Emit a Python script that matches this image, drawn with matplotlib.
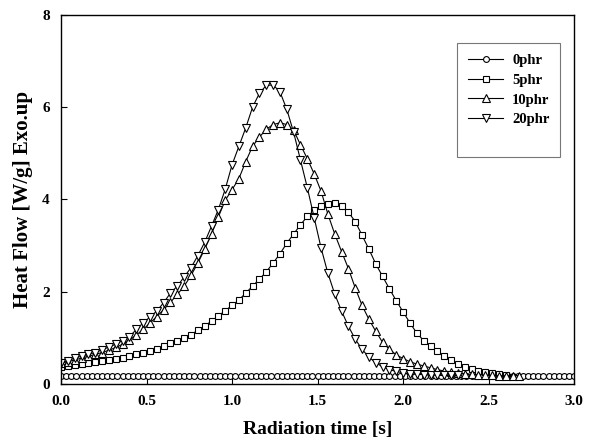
import numpy as np
import matplotlib
matplotlib.use('Agg')
import matplotlib.pyplot as plt
from matplotlib.lines import Line2D

# radiation time grids [s]
t0 = np.round(np.arange(0, 3.001, 0.03), 3)
t5 = np.round(np.arange(0, 2.601, 0.04), 3)
t10 = np.round(np.arange(0, 2.681, 0.04), 3)
t20 = np.round(np.arange(0, 2.321, 0.04), 3)

# heat flow [W/g]
phr0 = [0.18, 0.18, 0.18, 0.18, 0.17, 0.17, 0.17, 0.17, 0.17, 0.17,
        0.17, 0.17, 0.17, 0.17, 0.17, 0.17, 0.17, 0.17, 0.17, 0.17,
        0.17, 0.17, 0.17, 0.17, 0.17, 0.17, 0.17, 0.17, 0.17, 0.17,
        0.17, 0.17, 0.17, 0.17, 0.17, 0.17, 0.17, 0.17, 0.17, 0.17,
        0.17, 0.17, 0.17, 0.17, 0.17, 0.17, 0.17, 0.17, 0.17, 0.17,
        0.17, 0.17, 0.17, 0.17, 0.17, 0.17, 0.17, 0.17, 0.17, 0.17,
        0.17, 0.17, 0.17, 0.17, 0.17, 0.17, 0.17, 0.17, 0.17, 0.17,
        0.17, 0.17, 0.17, 0.17, 0.17, 0.17, 0.17, 0.17, 0.17, 0.17,
        0.17, 0.17, 0.17, 0.17, 0.17, 0.17, 0.17, 0.17, 0.17, 0.17,
        0.17, 0.17, 0.17, 0.17, 0.17, 0.17, 0.17, 0.17, 0.17, 0.17,
        0.17]

phr5 = [0.37, 0.39, 0.41, 0.43, 0.45, 0.48, 0.50, 0.52, 0.54, 0.57,
        0.60, 0.64, 0.67, 0.71, 0.76, 0.82, 0.88, 0.94, 0.99, 1.07,
        1.16, 1.26, 1.36, 1.47, 1.59, 1.70, 1.82, 1.97, 2.12, 2.27,
        2.43, 2.62, 2.82, 3.05, 3.25, 3.45, 3.63, 3.76, 3.86, 3.91,
        3.92, 3.86, 3.72, 3.52, 3.22, 2.92, 2.60, 2.33, 2.06, 1.80,
        1.56, 1.32, 1.10, 0.94, 0.82, 0.71, 0.60, 0.51, 0.43, 0.37,
        0.32, 0.28, 0.25, 0.23, 0.21, 0.20]

phr10 = [0.45, 0.48, 0.52, 0.56, 0.60, 0.64, 0.68, 0.73, 0.79, 0.86,
         0.95, 1.06, 1.18, 1.32, 1.46, 1.61, 1.77, 1.94, 2.12, 2.35,
         2.62, 2.92, 3.25, 3.62, 3.98, 4.21, 4.45, 4.82, 5.15, 5.35,
         5.52, 5.62, 5.66, 5.62, 5.50, 5.18, 4.88, 4.55, 4.18, 3.68,
         3.25, 2.87, 2.50, 2.08, 1.70, 1.40, 1.14, 0.90, 0.75, 0.63,
         0.55, 0.48, 0.43, 0.39, 0.35, 0.31, 0.28, 0.26, 0.24, 0.22,
         0.21, 0.20, 0.19, 0.19, 0.18, 0.18, 0.18, 0.18]

phr20 = [0.45, 0.50, 0.56, 0.60, 0.64, 0.68, 0.74, 0.80, 0.86, 0.94,
         1.02, 1.18, 1.32, 1.45, 1.58, 1.76, 1.97, 2.12, 2.32, 2.52,
         2.78, 3.07, 3.42, 3.78, 4.22, 4.75, 5.15, 5.55, 6.00, 6.30,
         6.47, 6.48, 6.33, 5.95, 5.45, 4.85, 4.25, 3.60, 2.95, 2.40,
         1.95, 1.58, 1.25, 0.97, 0.75, 0.58, 0.46, 0.37, 0.31, 0.27,
         0.24, 0.22, 0.21, 0.20, 0.20, 0.19, 0.19, 0.19, 0.19]

plt.rcParams['font.family'] = ['Liberation Serif', 'DejaVu Serif']
plt.rcParams['font.weight'] = 'bold'

fig = plt.figure(figsize=(5.92, 4.48), dpi=100)
ax = fig.add_axes([0.103, 0.143, 0.867, 0.824])

style = dict(color='black', lw=0.8, mfc='white', mec='black', mew=0.8)
ax.plot(t0, phr0, marker='o', ms=4.2, label='0phr', **style)
ax.plot(t5, phr5, marker='s', ms=4.5, label='5phr', **style)
ax.plot(t10, phr10, marker='^', ms=5.2, label='10phr', **style)
ax.plot(t20, phr20, marker='v', ms=5.2, label='20phr', **style)

ax.set_xlim(0, 3.0)
ax.set_ylim(0, 8)
ax.set_xticks([0, 0.5, 1.0, 1.5, 2.0, 2.5, 3.0])
ax.set_xticklabels(['0.0', '0.5', '1.0', '1.5', '2.0', '2.5', '3.0'])
ax.set_yticks([0, 2, 4, 6, 8])
ax.tick_params(direction='in', length=4, width=0.8, labelsize=11, pad=8)
for lab in ax.get_xticklabels() + ax.get_yticklabels():
    lab.set_fontweight('bold')
for s in ax.spines.values():
    s.set_linewidth(1.0)

ax.set_xlabel('Radiation time [s]', fontsize=14, fontweight='bold', labelpad=9)
ax.set_ylabel('Heat Flow [W/g] Exo.up', fontsize=15, fontweight='bold', labelpad=7)

handles, labels = ax.get_legend_handles_labels()
blank = Line2D([], [], lw=0, marker=None)
leg = ax.legend(handles + [blank], labels + [' '], loc='upper right',
                bbox_to_anchor=(0.973, 0.924), borderaxespad=0,
                frameon=True, fancybox=False,
                edgecolor='#555555', handlelength=2.4, fontsize=10.5,
                borderpad=0.75, labelspacing=0.45, handletextpad=0.6)
leg.get_frame().set_linewidth(0.8)
for txt in leg.get_texts():
    txt.set_fontweight('bold')

fig.savefig('out.png', dpi=100)
